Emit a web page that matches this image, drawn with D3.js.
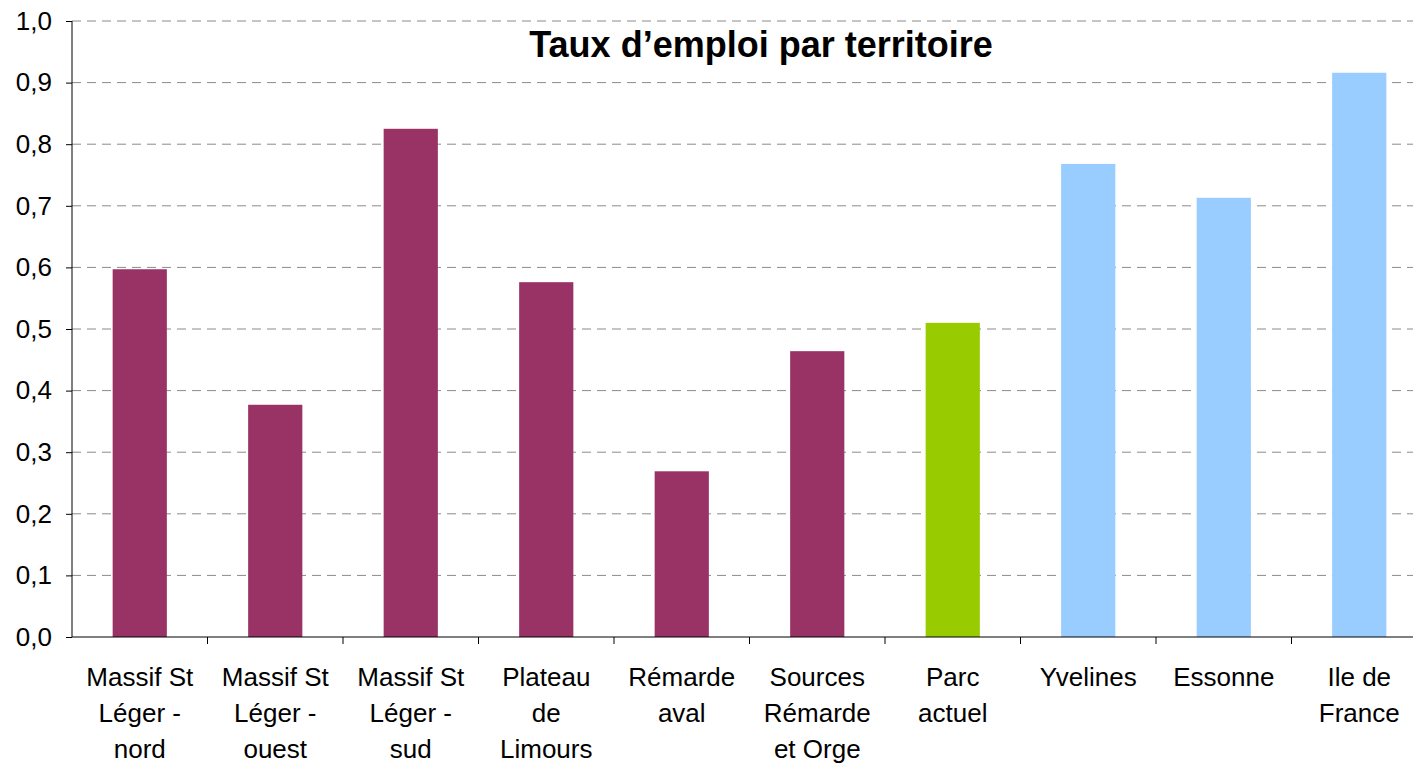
<!DOCTYPE html>
<html lang="fr">
<head>
  <meta charset="UTF-8">
  <title>Taux d'emploi par territoire</title>
  <script src="https://d3js.org/d3.v7.min.js"></script>
  <style>
    body {
      margin: 0;
      background: #fff;
      font-family: "Liberation Sans", Arial, sans-serif;
    }
    #chart {
      display: block;
    }
    .grid line {
      stroke: #8a8a8a;
      stroke-dasharray: 9,6;
    }
  </style>
</head>
<body>
  <svg id="chart" width="1413" height="768"></svg>

  <script>
    const categories = [
      ["Massif St", "Léger -", "nord"],
      ["Massif St", "Léger -", "ouest"],
      ["Massif St", "Léger -", "sud"],
      ["Plateau", "de", "Limours"],
      ["Rémarde", "aval"],
      ["Sources", "Rémarde", "et Orge"],
      ["Parc", "actuel"],
      ["Yvelines"],
      ["Essonne"],
      ["Ile de", "France"]
    ];
    const values = [0.597, 0.377, 0.825, 0.576, 0.269, 0.464, 0.510, 0.768, 0.713, 0.916];
    const groups = ["territoire", "territoire", "territoire", "territoire", "territoire", "territoire", "parc", "ref", "ref", "ref"];
    const yTicks = [0, 0.1, 0.2, 0.3, 0.4, 0.5, 0.6, 0.7, 0.8, 0.9, 1.0];

    const margin = { top: 21, left: 72 };
    const width = 1355;
    const height = 616;

    const svg = d3.select("#chart")
      .append("g")
      .attr("transform", `translate(${margin.left},${margin.top})`);

    const ids = categories.map((c, i) => i);

    const x = d3.scaleBand()
      .domain(ids)
      .range([0, width])
      .paddingInner(0.6)
      .paddingOuter(0.3);

    const y = d3.scaleLinear()
      .domain([0, 1])
      .range([height, 0]);

    const color = d3.scaleOrdinal()
      .domain(["territoire", "parc", "ref"])
      .range(["#993366", "#99cc00", "#99ccff"]);

    // grid
    svg.append("g")
      .attr("class", "grid")
      .selectAll("line")
      .data(yTicks.filter(d => d > 0))
      .enter()
      .append("line")
      .attr("x1", 0)
      .attr("x2", width)
      .attr("y1", d => y(d))
      .attr("y2", d => y(d));

    // bars
    svg.selectAll(".bar")
      .data(values)
      .enter()
      .append("rect")
      .attr("class", "bar")
      .attr("x", (d, i) => x(i))
      .attr("width", x.bandwidth())
      .attr("y", d => y(d))
      .attr("height", d => height - y(d))
      .attr("fill", (d, i) => color(groups[i]));

    // Y axis
    const yAxis = svg.append("g")
      .call(d3.axisLeft(y)
        .tickValues(yTicks)
        .tickSize(6)
        .tickPadding(14)
        .tickFormat(d => d3.format(".1f")(d).replace(".", ",")));
    yAxis.select(".domain").attr("stroke", "#000").attr("d", `M0,0V${height}`);
    yAxis.selectAll(".tick line").attr("stroke", "#000");
    yAxis.selectAll("text")
      .attr("font-family", "'Liberation Sans', Arial, sans-serif")
      .attr("font-size", "26px")
      .attr("fill", "#000");

    // X axis line + ticks at band boundaries
    svg.append("line")
      .attr("x1", 0)
      .attr("x2", width)
      .attr("y1", height)
      .attr("y2", height)
      .attr("stroke", "#000");

    svg.selectAll(".xtick")
      .data(ids.slice(1))
      .enter()
      .append("line")
      .attr("x1", d => x(d) - x.step() * x.paddingInner() / 2)
      .attr("x2", d => x(d) - x.step() * x.paddingInner() / 2)
      .attr("y1", height)
      .attr("y2", height + 7)
      .attr("stroke", "#000");

    // category labels
    const labels = svg.selectAll(".xlabel")
      .data(categories)
      .enter()
      .append("text")
      .attr("class", "xlabel")
      .attr("text-anchor", "middle")
      .attr("font-size", "26px")
      .attr("fill", "#000")
      .attr("transform", (d, i) => `translate(${x(i) + x.bandwidth() / 2},${height + 49})`);

    labels.selectAll("tspan")
      .data(d => d)
      .enter()
      .append("tspan")
      .attr("x", 0)
      .attr("y", (d, i) => i * 36)
      .text(d => d);

    // title
    svg.append("text")
      .attr("x", 761 - margin.left)
      .attr("y", 57 - margin.top)
      .attr("text-anchor", "middle")
      .attr("font-size", "36px")
      .attr("font-weight", "bold")
      .text("Taux d\u2019emploi par territoire");
  </script>
</body>
</html>
